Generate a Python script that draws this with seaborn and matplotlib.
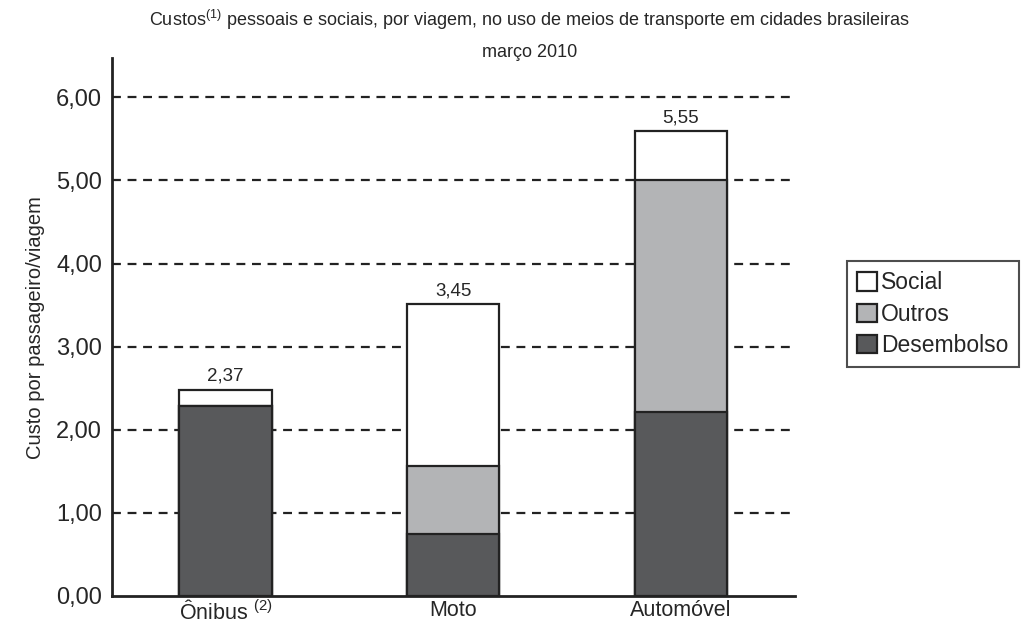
import matplotlib
matplotlib.use("Agg")
import matplotlib.pyplot as plt
from matplotlib.patches import Patch
import seaborn as sns
import pandas as pd

# Data
modos = ["Ônibus", "Moto", "Automóvel"]
desembolso = [2.29, 0.75, 2.21]
outros = [0.00, 0.81, 2.80]
social = [0.19, 1.95, 0.58]
total_labels = ["2,37", "3,45", "5,55"]
y_ticks = [0, 1, 2, 3, 4, 5, 6]

sns.set_style("white")
plt.rcParams["font.family"] = ["Liberation Sans", "DejaVu Sans"]
plt.rcParams["mathtext.default"] = "regular"

c_des = "#58595b"
c_out = "#b3b4b6"
c_soc = "#ffffff"

df = pd.DataFrame({"modo": modos, "des": desembolso, "out": outros, "soc": social})
df["lvl2"] = df["des"] + df["out"]
df["lvl3"] = df["lvl2"] + df["soc"]

fig = plt.figure(figsize=(10.24, 6.26), dpi=100)
ax = fig.add_axes([0.109, 0.048, 0.667, 0.859])

# dashed gridlines behind bars
for t in y_ticks[1:]:
    ax.axhline(t, color="#222222", linestyle=(0, (4, 3)), linewidth=1.6, zorder=0)

# stacked bars, drawn back to front
for col, colr in [("lvl3", c_soc), ("lvl2", c_out), ("des", c_des)]:
    sns.barplot(data=df, x="modo", y=col, color=colr, width=0.405,
                edgecolor="#222222", linewidth=1.6, saturation=1, ax=ax, zorder=2)

for i, lab in enumerate(total_labels):
    ax.text(i, df["lvl3"][i] + 0.06, lab, ha="center", va="bottom", fontsize=13.5)

ax.set_xlim(-0.5, 2.5)
ax.set_ylim(0, 6.47)
ax.set_yticks(y_ticks)
ax.set_yticklabels([f"{t:.2f}".replace(".", ",") for t in y_ticks], fontsize=17)
ax.set_xticks(range(3))
ax.set_xticklabels([r"Ônibus $^{(2)}$", "Moto", "Automóvel"], fontsize=15.5)
ax.tick_params(axis="y", length=0, pad=7)
ax.tick_params(axis="x", length=0, pad=3)
ax.set_xlabel("")
ax.set_ylabel("Custo por passageiro/viagem", fontsize=14.5, labelpad=8)

for s in ["top", "right"]:
    ax.spines[s].set_visible(False)
ax.spines["left"].set_color("#222222")
ax.spines["left"].set_linewidth(2)
ax.spines["bottom"].set_color("#222222")
ax.spines["bottom"].set_linewidth(2)

fig.text(0.517, 0.968, r"Custos$^{(1)}$ pessoais e sociais, por viagem, no uso de meios de transporte em cidades brasileiras",
         ha="center", va="center", fontsize=13)
fig.text(0.517, 0.916, "março 2010", ha="center", va="center", fontsize=13)

handles = [Patch(facecolor=c_soc, edgecolor="#222222", linewidth=1.6, label="Social"),
           Patch(facecolor=c_out, edgecolor="#222222", linewidth=1.6, label="Outros"),
           Patch(facecolor=c_des, edgecolor="#222222", linewidth=1.6, label="Desembolso")]
leg = fig.legend(handles=handles, loc="upper left", bbox_to_anchor=(0.827, 0.583),
                 fontsize=16.5, frameon=True, fancybox=False, handlelength=0.85,
                 handleheight=0.85, handletextpad=0.2, labelspacing=0.36, borderpad=0.45,
                 borderaxespad=0)
leg.get_frame().set_edgecolor("#222222")
leg.get_frame().set_linewidth(1.5)

fig.savefig("out.png", dpi=100)
